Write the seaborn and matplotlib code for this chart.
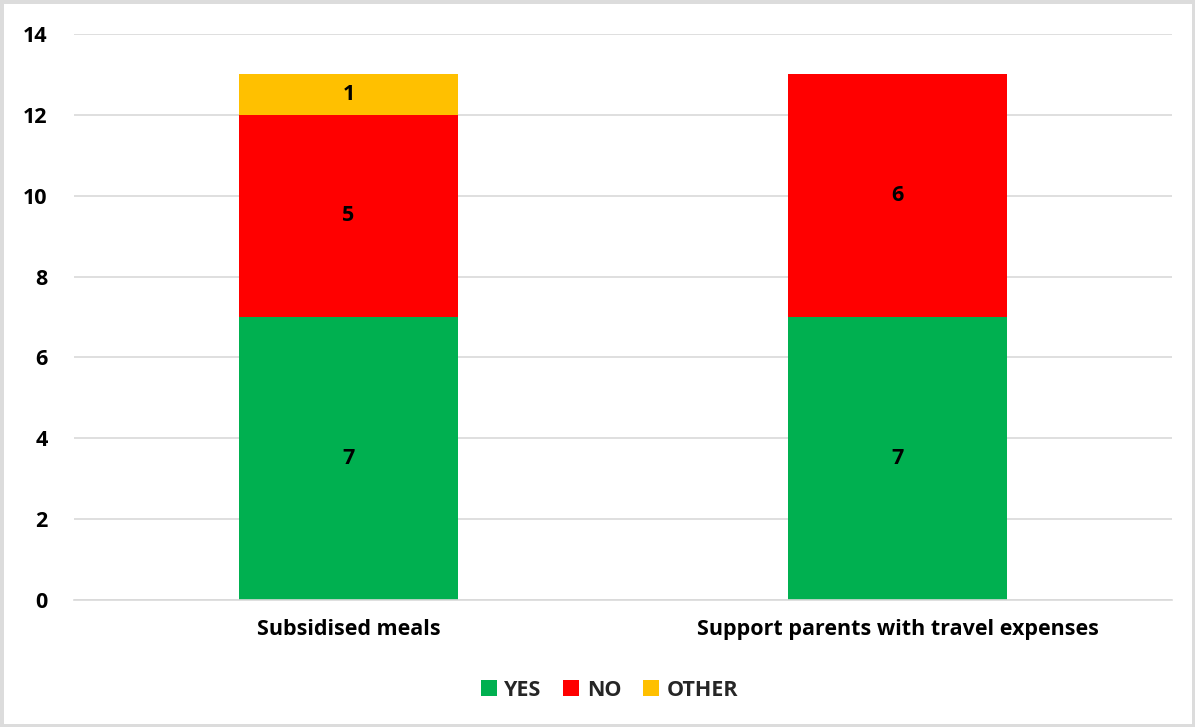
import matplotlib
matplotlib.use("Agg")
import matplotlib.pyplot as plt
import seaborn as sns
import pandas as pd
from matplotlib.patches import Rectangle

categories = ["Subsidised meals", "Support parents with travel expenses"]
series_names = ["YES", "NO", "OTHER"]
yes_vals = [7, 7]
no_vals = [5, 6]
other_vals = [1, 0]
colors = ["#00B050", "#FF0000", "#FFC000"]

sns.set_theme(style="white")
plt.rcParams['font.family'] = ['Open Sans', 'DejaVu Sans']

FS = 15.5

fig = plt.figure(figsize=(11.95, 7.27), dpi=100)
ax = fig.add_axes([74/1195, 127/727, 1098/1195, 566/727])

values = [yes_vals, no_vals, other_vals]
bottom = [0, 0]
for name, vals, col in zip(series_names, values, colors):
    df = pd.DataFrame({"cat": categories, "val": vals})
    sns.barplot(data=df, x="cat", y="val", color=col, width=0.4, bottom=bottom,
                ax=ax, label=name, saturation=1, linewidth=0)
    cont = ax.containers[-1]
    labels = [str(v) if v else "" for v in vals]
    ax.bar_label(cont, labels=labels, label_type="center", fontsize=FS,
                 fontweight="bold", color="black")
    bottom = [b + v for b, v in zip(bottom, vals)]

ax.set_ylim(0, 14)
ax.set_xlim(-0.5, 1.5)
ax.set_yticks(range(0, 15, 2))
ax.yaxis.grid(True, color="#d9d9d9", linewidth=1.2)
ax.set_axisbelow(True)
for s in ["left", "right", "top"]:
    ax.spines[s].set_visible(False)
ax.spines["bottom"].set_color("#d9d9d9")
ax.spines["bottom"].set_linewidth(1.2)
ax.set_xlabel("")
ax.set_ylabel("")
ax.tick_params(axis="y", length=0, pad=19, labelsize=FS)
ax.tick_params(axis="x", length=0, pad=14, labelsize=FS)
for lbl in ax.get_xticklabels() + ax.get_yticklabels():
    lbl.set_fontweight("bold")
    lbl.set_color("black")

handles, labs = ax.get_legend_handles_labels()
if ax.get_legend():
    ax.get_legend().remove()
fig.legend(handles, labs, loc="center", bbox_to_anchor=(0.51, 37/727), ncol=3,
           frameon=False, handlelength=0.75, handleheight=0.75, handletextpad=0.35,
           columnspacing=1.0, prop={"weight": "bold", "size": FS})

fig.patches.append(Rectangle((0, 0), 1, 1, transform=fig.transFigure,
                             fill=False, edgecolor="#dcdcdc", linewidth=5))
fig.savefig("out.png", dpi=100)
